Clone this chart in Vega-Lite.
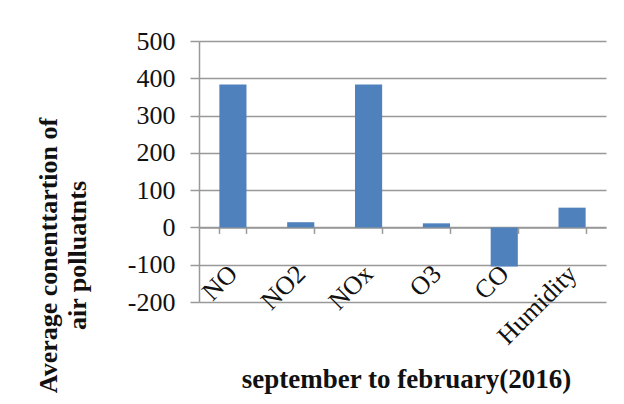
{
  "$schema": "https://vega.github.io/schema/vega-lite/v6.json",
  "width": 407,
  "height": 261,
  "autosize": {"type": "none"},
  "padding": {"left": 199, "top": 41, "right": 18, "bottom": 102},
  "background": "white",
  "config": {
    "view": {"stroke": null},
    "font": "Liberation Serif"
  },
  "data": {
    "values": [
      {"pollutant": "NO", "value": 383},
      {"pollutant": "NO2", "value": 14},
      {"pollutant": "NOx", "value": 383},
      {"pollutant": "O3", "value": 11},
      {"pollutant": "CO", "value": -105},
      {"pollutant": "Humidity", "value": 53}
    ]
  },
  "mark": {"type": "bar", "color": "#4f81bd"},
  "encoding": {
    "x": {
      "field": "pollutant",
      "type": "nominal",
      "sort": null,
      "scale": {"paddingInner": 0.6, "paddingOuter": 0.3},
      "axis": {
        "offset": -74.6,
        "title": "september to february(2016)",
        "titleFont": "Liberation Serif",
        "titleFontSize": 27,
        "titleFontWeight": "bold",
        "titleColor": "#111",
        "titleX": 207,
        "titleY": 152,
        "titleBaseline": "middle",
        "titleAlign": "center",
        "labelAngle": -45,
        "labelAlign": "right",
        "labelBaseline": "middle",
        "labelPadding": 36,
        "labelFont": "Liberation Serif",
        "labelFontSize": 26,
        "labelColor": "#111",
        "labelOverlap": false,
        "labelFlush": false,
        "tickBand": "extent",
        "tickSize": 6,
        "tickColor": "#999",
        "tickWidth": 1.5,
        "domainColor": "#999",
        "domainWidth": 1.5,
        "grid": false
      }
    },
    "y": {
      "field": "value",
      "type": "quantitative",
      "scale": {"domain": [-200, 500], "nice": false, "zero": false},
      "axis": {
        "values": [-200, -100, 0, 100, 200, 300, 400, 500],
        "labelExpr": "'' + datum.value",
        "title": ["Average conenttartion of", "air polluatnts"],
        "titleFont": "Liberation Serif",
        "titleFontSize": 26,
        "titleFontWeight": "bold",
        "titleColor": "#111",
        "titleLineHeight": 29,
        "titleAngle": -90,
        "titleX": -150.5,
        "titleY": 214,
        "titleAlign": "center",
        "titleBaseline": "middle",
        "labelFont": "Liberation Serif",
        "labelFontSize": 26,
        "labelColor": "#111",
        "labelPadding": 15,
        "tickSize": 9,
        "tickColor": "#999",
        "tickWidth": 1.5,
        "domainColor": "#999",
        "domainWidth": 1.5,
        "grid": true,
        "gridColor": "#999",
        "gridWidth": 1.5
      }
    }
  }
}
